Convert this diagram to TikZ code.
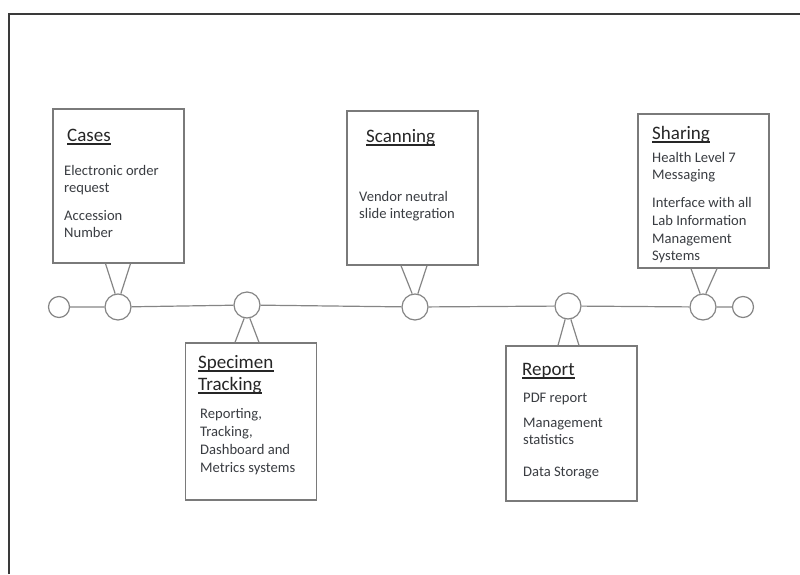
\documentclass[tikz,border=0pt]{standalone}
\usepackage{fontspec}
\setmainfont{Carlito}
\definecolor{boxgray}{HTML}{7A7A7A}
\definecolor{linegray}{HTML}{858585}
\definecolor{framecol}{HTML}{3A3A3A}
\definecolor{titlecol}{HTML}{262626}
\definecolor{bodycol}{HTML}{3A3D42}
\tikzset{
  panel/.style={draw=boxgray, line width=1.3pt, fill=white, inner sep=0pt, minimum width=131pt},
  ring/.style={circle, draw=linegray, fill=white, line width=1.2pt, inner sep=0pt, minimum size=26pt},
  endring/.style={ring, minimum size=21pt},
  leg/.style={draw=linegray, line width=1.2pt},
  ttl/.style={anchor=base west, inner sep=0pt, font=\fontsize{19}{22}\selectfont, text=titlecol},
  uline/.style={draw=titlecol, line width=1.5pt},
  txt/.style={anchor=base west, inner sep=0pt, font=\fontsize{14.6}{17}\selectfont, text=bodycol}
}
\begin{document}
\begin{tikzpicture}[x=1pt,y=-1pt]
\useasboundingbox (0,0) rectangle (800,574);
\draw[framecol, line width=2.2pt] (9,574) -- (9,14) -- (800,14);

% boxes
\node[panel, minimum height=154pt] (cases) at (118.5,186) {};
\node[panel, minimum height=157pt] (spec) at (251,421.5) {};
\node[panel, minimum height=154pt] (scan) at (412.5,188) {};
\node[panel, minimum height=155pt] (rep) at (571.5,423.5) {};
\node[panel, minimum height=154pt] (share) at (703.5,191) {};

% timeline circles
\node[endring] (l0) at (59,307) {};
\node[ring] (cc) at (118,307) {};
\node[ring] (sc) at (247,305) {};
\node[ring] (nc) at (415,307) {};
\node[ring] (rc) at (568,306) {};
\node[ring] (hc) at (703,307) {};
\node[endring] (r0) at (743,307) {};
\draw[leg] (l0) -- (cc) -- (sc) -- (nc) -- (rc) -- (hc) -- (r0);

% legs
\draw[leg] ([xshift=-13pt]cases.south) -- (cc.102);
\draw[leg] ([xshift=12pt]cases.south) -- (cc.78);
\draw[leg] ([xshift=-16pt]spec.north) -- (sc.258);
\draw[leg] ([xshift=8pt]spec.north) -- (sc.282);
\draw[leg] ([xshift=-11.5pt]scan.south) -- (nc.102);
\draw[leg] ([xshift=14.5pt]scan.south) -- (nc.78);
\draw[leg] ([xshift=-13.5pt]rep.north) -- (rc.258);
\draw[leg] ([xshift=7.5pt]rep.north) -- (rc.282);
\draw[leg] ([xshift=-12.5pt]share.south) -- (hc.102);
\draw[leg] ([xshift=13.5pt]share.south) -- (hc.78);

% Cases
\node[ttl] (t1) at (67,141) {Cases};
\draw[uline] ([yshift=-3pt]t1.base west) -- ([yshift=-3pt]t1.base east);
\node[txt] (c1) at (64,175) {Electronic order};
\node[txt] (c2) at (64,192) {request};
\node[txt] (c3) at (64,220) {Accession};
\node[txt] (c4) at (64,237) {Number};

% Specimen Tracking
\node[ttl] (t2a) at (198,368) {Specimen};
\draw[uline] ([yshift=-3pt]t2a.base west) -- ([yshift=-3pt]t2a.base east);
\node[ttl] (t2b) at (198,390) {Tracking};
\draw[uline] ([yshift=-3pt]t2b.base west) -- ([yshift=-3pt]t2b.base east);
\node[txt] (s1) at (200,418) {Reporting,};
\node[txt] (s2) at (200,436) {Tracking,};
\node[txt] (s3) at (200,454) {Dashboard and};
\node[txt] (s4) at (200,472) {Metrics systems};

% Scanning
\node[ttl] (t3) at (366,142) {Scanning};
\draw[uline] ([yshift=-3pt]t3.base west) -- ([yshift=-3pt]t3.base east);
\node[txt] (n1) at (359,201) {Vendor neutral};
\node[txt] (n2) at (359,218) {slide integration};

% Report
\node[ttl] (t4) at (522,375) {Report};
\draw[uline] ([yshift=-3pt]t4.base west) -- ([yshift=-3pt]t4.base east);
\node[txt] (r1) at (523,402) {PDF report};
\node[txt] (r2) at (523,427) {Management};
\node[txt] (r3) at (523,444) {statistics};
\node[txt] (r4) at (523,476) {Data Storage};

% Sharing
\node[ttl] (t5) at (652,139) {Sharing};
\draw[uline] ([yshift=-3pt]t5.base west) -- ([yshift=-3pt]t5.base east);
\node[txt] (h1) at (652,162) {Health Level 7};
\node[txt] (h2) at (652,179) {Messaging};
\node[txt] (h3) at (652,207) {Interface with all};
\node[txt] (h4) at (652,225) {Lab Information};
\node[txt] (h5) at (652,243) {Management};
\node[txt] (h6) at (652,260) {Systems};
\end{tikzpicture}
\end{document}
